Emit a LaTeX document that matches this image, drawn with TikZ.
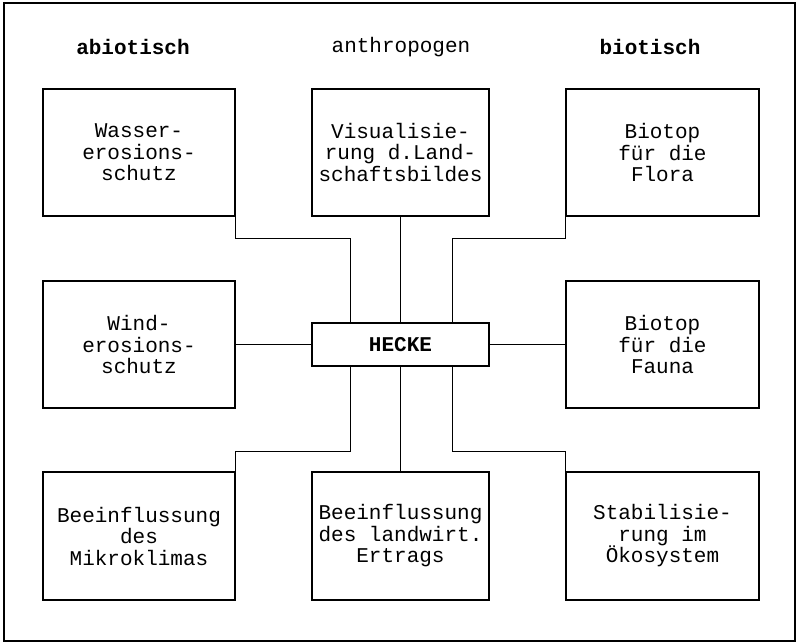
\documentclass[tikz,border=0pt]{standalone}
\usepackage{fontspec}
\setmainfont{Liberation Mono}
\begin{document}
\begin{tikzpicture}[x=1pt,y=-1pt,
  box/.style={draw,line width=1.2pt,rectangle,align=center,inner sep=0pt,
    font=\fontsize{21}{21.5}\selectfont},
  head/.style={font=\fontsize{21}{21.5}\selectfont},
  link/.style={draw,line width=1pt}]
\useasboundingbox (0,0) rectangle (801,642);
\draw[line width=1.5pt] (4,3) rectangle (795,641);
% headings
\node[head,font=\fontsize{21}{21.5}\selectfont\bfseries] (habio) at (133,47) {abiotisch};
\node[head] (hanthro) at (401,47) {anthropogen};
\node[head,font=\fontsize{21}{21.5}\selectfont\bfseries] (hbio) at (650,47) {biotisch};
% boxes
\node[box,minimum width=192pt,minimum height=127pt] (wasser) at (139,152.5) {Wasser-\\erosions-\\schutz};
\node[box,minimum width=177pt,minimum height=127pt] (visual) at (400.5,152.5) {Visualisie-\\rung d.Land-\\schaftsbildes};
\node[box,minimum width=193pt,minimum height=127pt] (flora) at (662.5,152.5) {Biotop\\für die\\Flora};
\node[box,minimum width=192pt,minimum height=127pt] (wind) at (139,344.5) {Wind-\\erosions-\\schutz};
\node[box,minimum width=177pt,minimum height=43pt,font=\fontsize{21}{21.5}\selectfont\bfseries] (hecke) at (400.5,344.5) {HECKE};
\node[box,minimum width=193pt,minimum height=127pt] (fauna) at (662.5,344.5) {Biotop\\für die\\Fauna};
\node[box,minimum width=192pt,minimum height=128pt] (mikro) at (139,536) {Beeinflussung\\des\\Mikroklimas};
\node[box,minimum width=177pt,minimum height=128pt] (ertrag) at (400.5,536) {Beeinflussung\\des landwirt.\\Ertrags};
\node[box,minimum width=193pt,minimum height=128pt] (oeko) at (662.5,536) {Stabilisie-\\rung im\\Ökosystem};
% junction coordinates
\coordinate (j1) at (350,238);
\coordinate (j2) at (452,238);
\coordinate (j3) at (350,451);
\coordinate (j4) at (452,451);
% connectors
\draw[link] (wasser.south east) |- (j1) -- (j1 |- hecke.north);
\draw[link] (visual.south) -- (hecke.north);
\draw[link] (flora.south west) |- (j2) -- (j2 |- hecke.north);
\draw[link] (wind.east) -- (hecke.west);
\draw[link] (hecke.east) -- (fauna.west);
\draw[link] (j3 |- hecke.south) -- (j3) -| (mikro.north east);
\draw[link] (hecke.south) -- (ertrag.north);
\draw[link] (j4 |- hecke.south) -- (j4) -| (oeko.north west);
\end{tikzpicture}
\end{document}
